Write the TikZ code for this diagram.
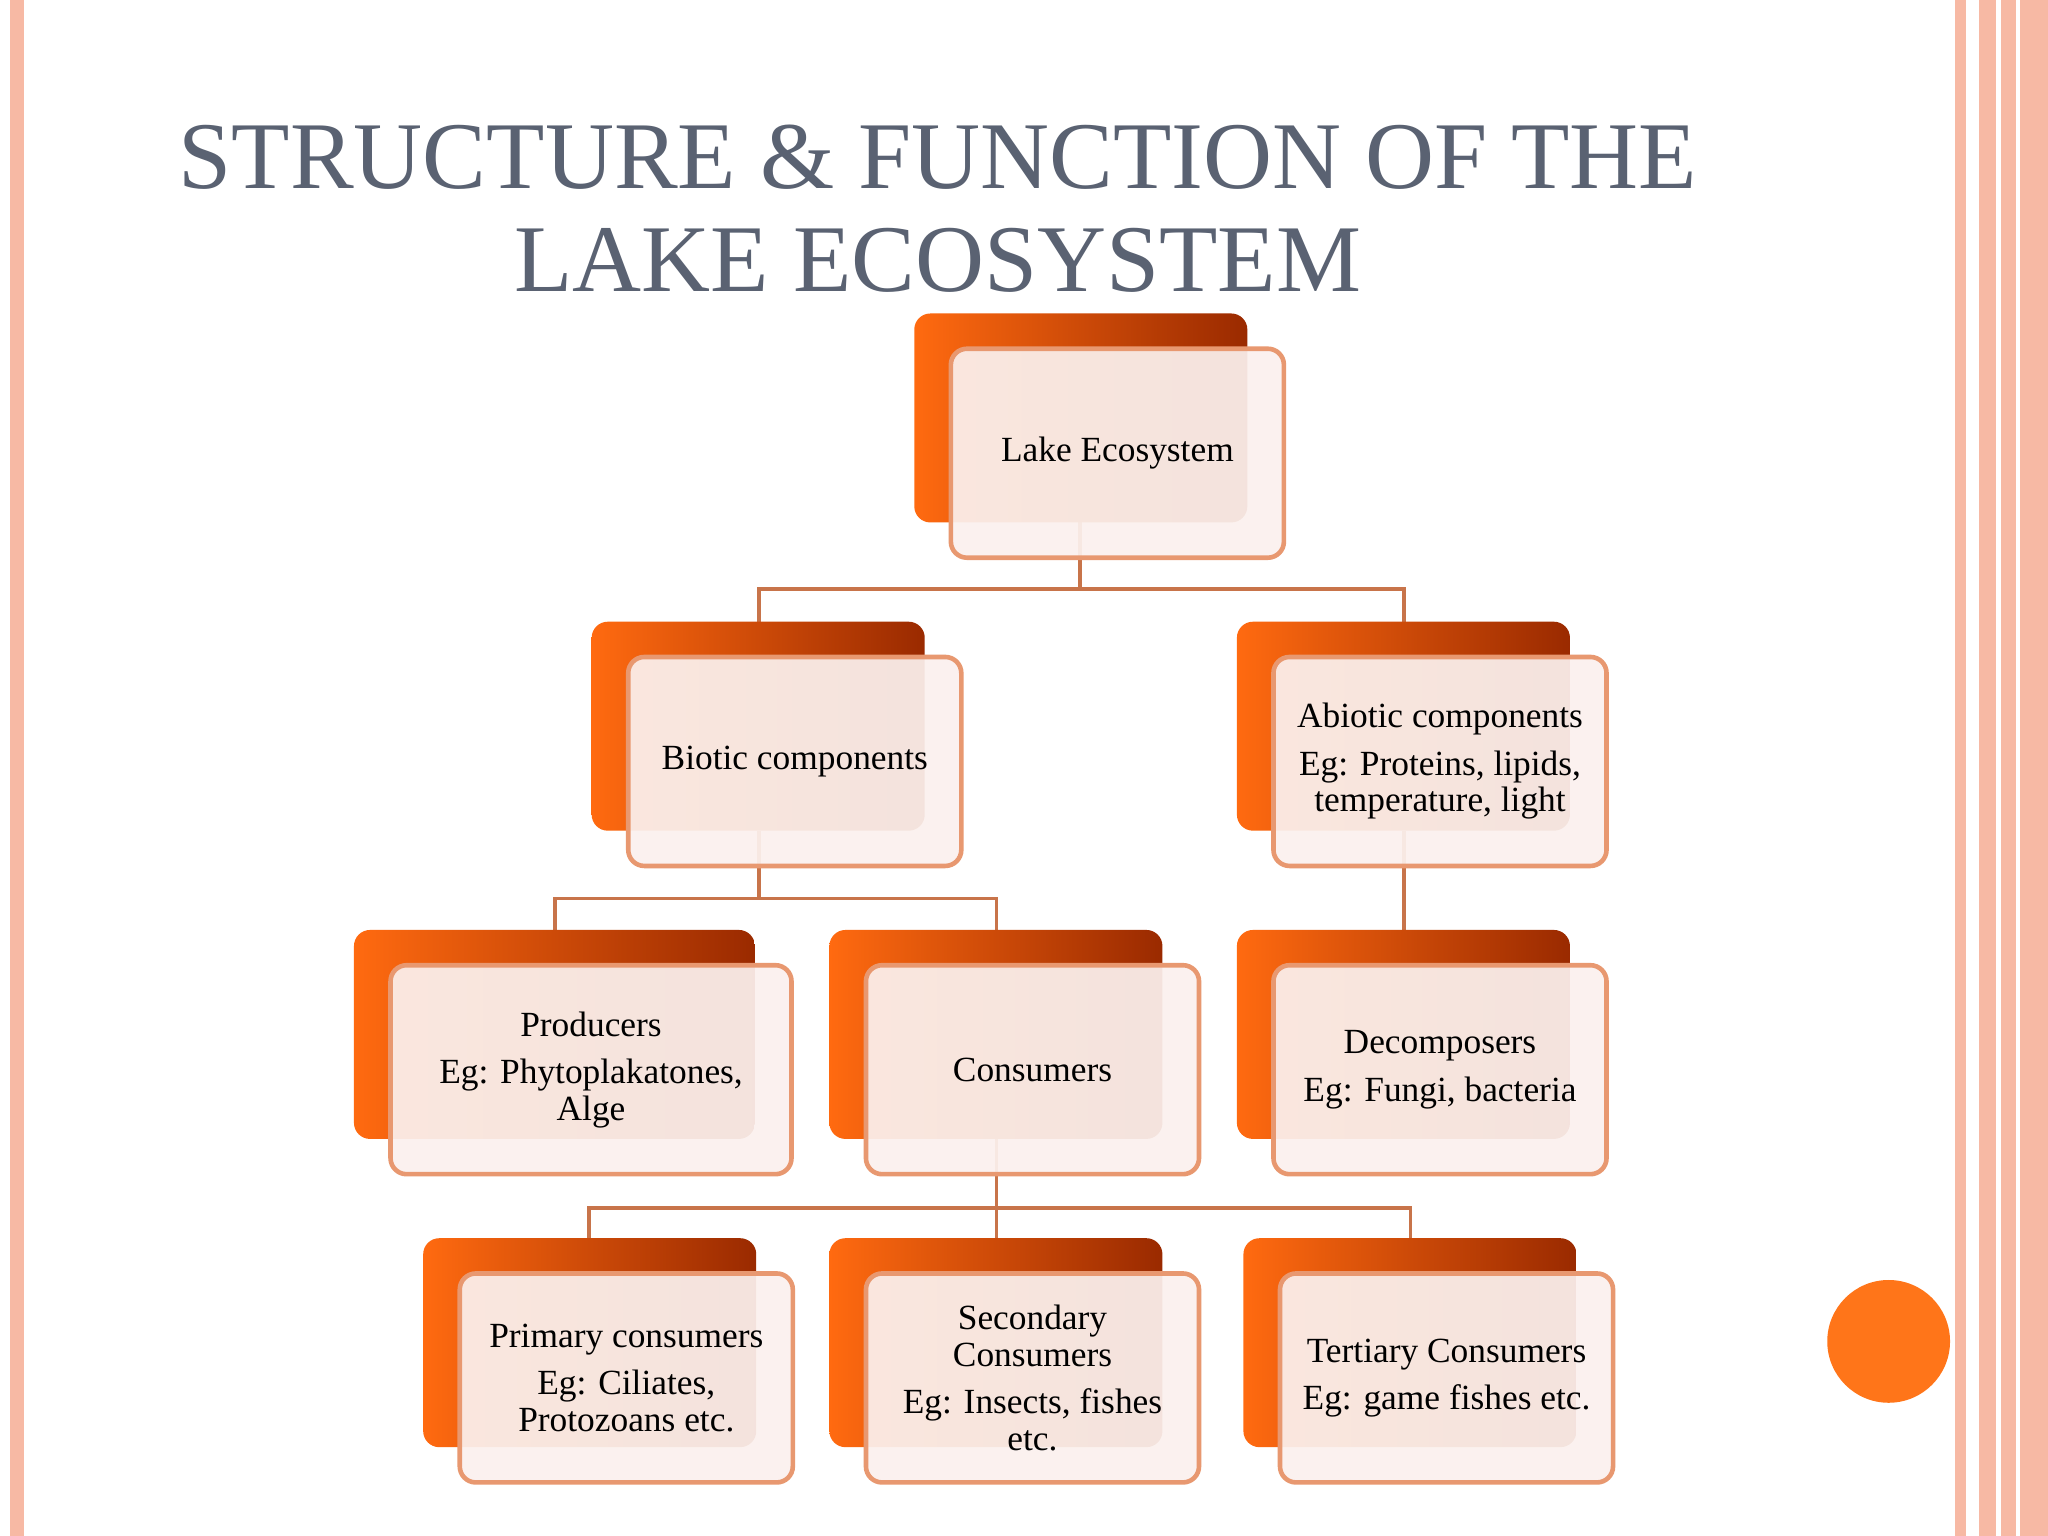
\documentclass[tikz,border=0pt]{standalone}
\usepackage{fontspec}
\setmainfont{Liberation Serif}
\definecolor{ttl}{HTML}{5A6272}
\definecolor{ln}{HTML}{C8744A}
\definecolor{og}{HTML}{FF6A10}
\definecolor{dk}{HTML}{9A2A00}
\definecolor{fr}{HTML}{FBF1EE}
\definecolor{bd}{HTML}{E89870}
\definecolor{pk}{HTML}{F7B9A4}
\begin{document}
\begin{tikzpicture}[x=0.01cm,y=-0.01cm,
  backbox/.style={rounded corners=3.5pt, shading angle=225, left color=og, right color=dk},
  frontbox/.style={rounded corners=3.5pt, fill=fr, fill opacity=0.93, draw=bd, line width=1pt},
  lbl/.style={font=\fontsize{7.7}{8}\selectfont, align=center, text=black},
  conn/.style={draw=ln, line width=0.8pt}]
\useasboundingbox (0,0) rectangle (1568,1176);
\fill[white] (0,0) rectangle (1568,1176);
% borders
\fill[pk] (8,0) rectangle (18,1176);
\fill[pk] (1497,0) rectangle (1505,1176);
\fill[pk] (1515,0) rectangle (1568,1176);
\draw[white,line width=1pt] (1530,0) -- (1530,1176) (1545,0) -- (1545,1176);
\fill[orange!80!red!90!white] (1446,1027) circle (47);
% title
\node[text=ttl, font=\fontsize{20.8}{22.5}\selectfont, align=center] (title) at (718,160) {STRUCTURE \& FUNCTION OF THE\\LAKE ECOSYSTEM};
\newcommand{\mybox}[5]{%
  \shade[backbox] (#1,#2) rectangle ++(#3,160);
  \path[frontbox] (#1+28,#2+27) rectangle ++(#3,160);
  \node[lbl] (#4) at (#1+28+#3/2,#2+27+80) {#5};
  \coordinate (#4t) at (#1+#3/2,#2);
  \coordinate (#4b) at (#1+#3/2,#2+160);}
% connectors
\draw[conn] (827,400) -- (827,451) -- (581,451) -- (581,476);
\draw[conn] (827,451) -- (1075,451) -- (1075,476);
\draw[conn] (581,636) -- (581,688) -- (425,688) -- (425,712);
\draw[conn] (581,688) -- (763,688) -- (763,712);
\draw[conn] (1075,636) -- (1075,712);
\draw[conn] (763,872) -- (763,925) -- (451,925) -- (451,948);
\draw[conn] (763,925) -- (763,948);
\draw[conn] (763,925) -- (1080,925) -- (1080,948);
\mybox{700}{240}{255}{lake}{Lake Ecosystem}
\mybox{453}{476}{255}{bio}{Biotic components}
\mybox{947}{476}{255}{abio}{Abiotic components\\[0.3em]Eg: Proteins, lipids,\\temperature, light}
\mybox{271}{712}{307}{prod}{Producers\\[0.3em]Eg: Phytoplakatones,\\Alge}
\mybox{635}{712}{255}{cons}{Consumers}
\mybox{947}{712}{255}{deco}{Decomposers\\[0.3em]Eg: Fungi, bacteria}
\mybox{324}{948}{255}{prim}{Primary consumers\\[0.3em]Eg: Ciliates,\\Protozoans etc.}
\mybox{635}{948}{255}{sec}{Secondary\\Consumers\\[0.3em]Eg: Insects, fishes\\etc.}
\mybox{952}{948}{255}{ter}{Tertiary Consumers\\[0.3em]Eg: game fishes etc.}
\end{tikzpicture}
\end{document}
